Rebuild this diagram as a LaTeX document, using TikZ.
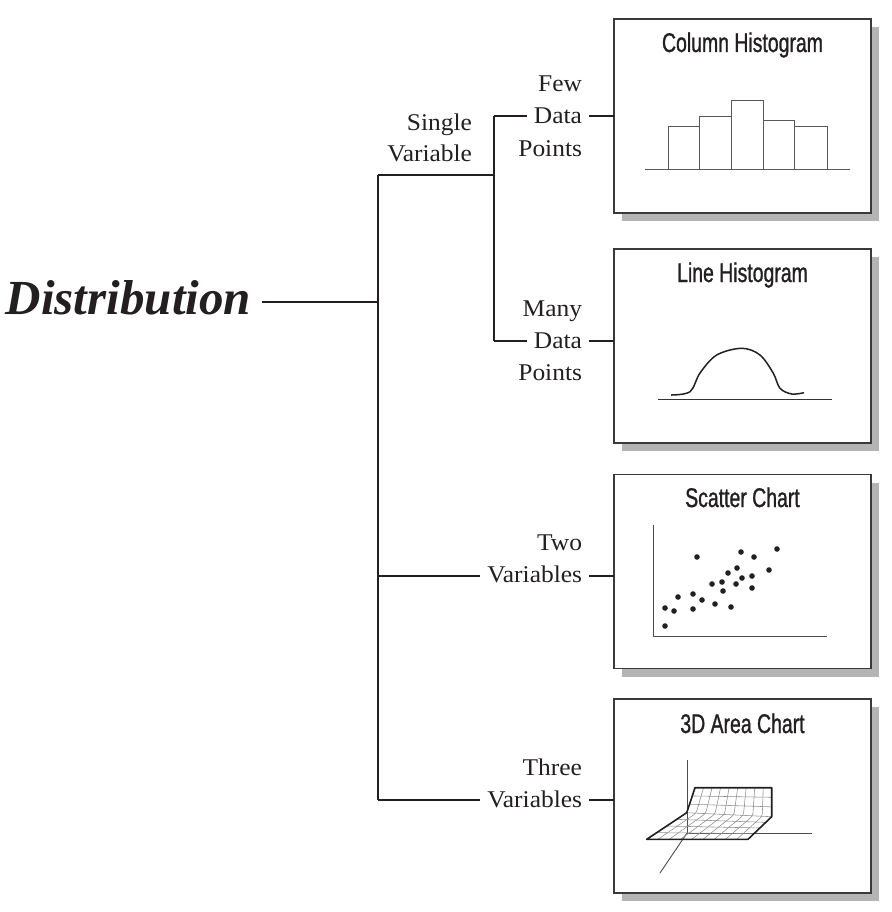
\documentclass[tikz,border=0pt]{standalone}
\usepackage{fontspec}
\setmainfont{Liberation Serif}
\newfontfamily\lblfont[FakeStretch=1.06]{Liberation Serif}
\newfontfamily\titlefont[FakeStretch=0.72,FakeBold=1]{Liberation Sans}
\usetikzlibrary{shadows,calc}
\definecolor{ink}{HTML}{231F20}
\definecolor{shade}{HTML}{B4B4B4}
\definecolor{edge}{HTML}{3A3A3A}
\begin{document}
\begin{tikzpicture}[x=1pt,y=-1pt,
  lbl/.style={font=\lblfont\fontsize{24}{28}\selectfont, text=ink, inner xsep=7pt, inner ysep=0pt, outer sep=0pt, anchor=base east},
  conn/.style={draw=ink, line width=1.4pt},
  chartbox/.style={draw=edge, line width=1.8pt, fill=white, minimum width=257pt, minimum height=194pt, inner sep=0pt, outer sep=0pt, drop shadow={shadow xshift=8pt, shadow yshift=-8pt, fill=shade, opacity=1}},
  charttitle/.style={font=\titlefont\fontsize{27}{30}\selectfont, text=ink, anchor=base, inner sep=0pt},
  bar/.style={draw=black!65, line width=1pt},
  axis/.style={draw=black!70, line width=0.9pt},
  dot/.style={fill=ink},
  mesh/.style={draw=black!45, line width=0.55pt}]
\useasboundingbox (0,0) rectangle (891,912);

% main label
\node[font=\bfseries\itshape\fontsize{49}{52}\selectfont, text=ink, inner xsep=11pt, inner ysep=0pt, outer sep=0pt, anchor=base east] (dist) at (262,314) {Distribution};

% labels
\node[lbl] (few1) at (589,92) {Few};
\node[lbl] (few2) at (589,124) {Data};
\node[lbl] (few3) at (589,156.5) {Points};
\node[lbl] (sv1) at (479,130.5) {Single};
\node[lbl] (sv2) at (479,162) {Variable};
\node[lbl] (many1) at (589,316.5) {Many};
\node[lbl] (many2) at (589,348.5) {Data};
\node[lbl] (many3) at (589,380.5) {Points};
\node[lbl] (two1) at (589,550) {Two};
\node[lbl] (two2) at (589,582.5) {Variables};
\node[lbl] (three1) at (589,775) {Three};
\node[lbl] (three2) at (589,807.5) {Variables};

% boxes
\node[chartbox] (b1) at (742.5,116) {};
\node[chartbox] (b2) at (742.5,346) {};
\node[chartbox] (b3) at (742.5,571.5) {};
\node[chartbox] (b4) at (742.5,796) {};
\node[charttitle] (t1) at (742.5,52) {Column Histogram};
\node[charttitle] (t2) at (742.5,282) {Line Histogram};
\node[charttitle] (t3) at (742.5,507) {Scatter Chart};
\node[charttitle] (t4) at (742.5,733) {3D Area Chart};

% tree
\coordinate (t0) at (378,302);
\coordinate (ttop) at (378,175);
\coordinate (tbot) at (378,800);
\coordinate (s0) at (494,175);
\coordinate (s1) at (494,116);
\coordinate (s2) at (494,341);
\coordinate (v2) at (378,576);
\coordinate (v3) at (378,800);
\draw[conn] (dist.east |- t0) -- (t0);
\draw[conn] (ttop) -- (tbot);
\draw[conn] (ttop) -- (s0);
\draw[conn] (s1) -- (s2);
\draw[conn] (s1) -- (s1 -| few2.west);
\draw[conn] (few2.east |- s1) -- (s1 -| b1.west);
\draw[conn] (s2) -- (s2 -| many2.west);
\draw[conn] (many2.east |- s2) -- (s2 -| b2.west);
\draw[conn] (v2) -- (v2 -| two2.west);
\draw[conn] (two2.east |- v2) -- (v2 -| b3.west);
\draw[conn] (v3) -- (v3 -| three2.west);
\draw[conn] (three2.east |- v3) -- (v3 -| b4.west);

% column histogram
\draw[bar] (668,170) rectangle (699,127);
\draw[bar] (699,170) rectangle (731,117);
\draw[bar] (731,170) rectangle (763,101);
\draw[bar] (763,170) rectangle (794,121);
\draw[bar] (794,170) rectangle (827,127);
\draw[draw=black!65, line width=1pt] (645,170) -- (850,170);

% line histogram
\draw[black!80, line width=0.9pt] (658,399) -- (832,399);
\draw[ink, line width=1.5pt] plot[smooth, tension=0.55] coordinates {(671,395) (690,391.7) (700,373) (716.7,355) (741.7,348.3) (760,355) (773.3,373.3) (780,388.3) (791.7,394) (804,392.7)};

% scatter chart
\draw[axis] (653,525) -- (653,636) -- (827,636);
\foreach \p in {(665,626),(665,608),(674,611),(678,597),(693,609),(693,594),(697,557),(702,600),(715,604),(712,584),(722,582),(723,591),(728,573),(731,607),(736,584),(737,568),(742,578),(741,552),(752,576),(752,588),(754,557),(769,570),(777,549)}
  \fill[dot] \p circle (2.8pt);

% 3D area chart
\draw[axis] (687,760) -- (687,833) -- (812,833);
\draw[axis] (687,833) -- (660,873);
\coordinate (TL) at (695,787.7);
\coordinate (TR) at (771.7,787.7);
\coordinate (FL) at (686.7,812.7);
\coordinate (FR) at (771.7,816.7);
\coordinate (BL) at (646.7,839.3);
\coordinate (BR) at (748,839.3);
\foreach \u in {0.111,0.222,0.333,0.444,0.556,0.667,0.778,0.889}
  \draw[mesh, rounded corners=3pt] ($(TL)!\u!(TR)$) -- ($(FL)!\u!(FR)$) -- ($(BL)!\u!(BR)$);
\foreach \t in {0.33,0.66}
  \draw[mesh] ($(TL)!\t!(FL)$) -- ($(TR)!\t!(FR)$);
\foreach \t in {0,0.25,0.5,0.75}
  \draw[mesh] ($(FL)!\t!(BL)$) -- ($(FR)!\t!(BR)$);
\draw[ink, line width=1.6pt, line join=round] (TL) -- (TR) -- (FR) -- (BR) -- (BL) -- (FL) -- cycle;
\end{tikzpicture}
\end{document}
